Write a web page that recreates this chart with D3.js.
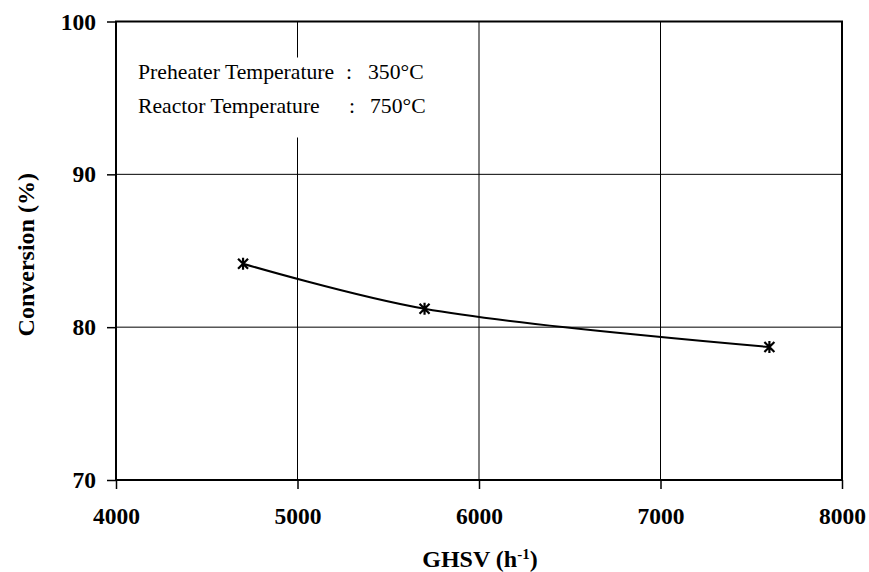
<!DOCTYPE html>
<html>
<head>
<meta charset="utf-8">
<script src="https://cdn.jsdelivr.net/npm/d3@7"></script>
<style>
  body { margin: 0; background: #fff; }
  svg text { font-family: "Liberation Serif", "Times New Roman", serif; fill: #000; }
</style>
</head>
<body>
<div id="chart"></div>
<script>
// data
var ghsv = [4700, 5700, 7600];
var conversion = [84.15, 81.2, 78.7];
var xTicks = [4000, 5000, 6000, 7000, 8000];
var yTicks = [70, 80, 90, 100];
var noteLabels = ["Preheater Temperature", "Reactor Temperature"];
var noteValues = ["350\u00B0C", "750\u00B0C"];

var W = 869, H = 572;
var margin = {top: 21.5, right: 27, bottom: 92, left: 116};
var width = W - margin.left - margin.right,
    height = H - margin.top - margin.bottom;

var svg = d3.select("#chart").append("svg")
    .attr("width", W)
    .attr("height", H);

var g = svg.append("g")
    .attr("transform", `translate(${margin.left}, ${margin.top})`);

var x = d3.scaleLinear().domain([4000, 8000]).range([0, width]);
var y = d3.scaleLinear().domain([70, 100]).range([height, 0]);

// gridlines
g.append("g")
    .selectAll("line.v")
    .data(xTicks.slice(1, -1))
    .enter().append("line")
    .attr("x1", d => x(d)).attr("x2", d => x(d))
    .attr("y1", 0).attr("y2", height)
    .attr("stroke", "#000").attr("stroke-width", 1);

g.append("g")
    .selectAll("line.h")
    .data(yTicks.slice(1, -1))
    .enter().append("line")
    .attr("x1", 0).attr("x2", width)
    .attr("y1", d => y(d)).attr("y2", d => y(d))
    .attr("stroke", "#000").attr("stroke-width", 1);

// white note box over the grid
g.append("rect")
    .attr("x", 14).attr("y", 36)
    .attr("width", 312).attr("height", 80)
    .attr("fill", "#fff");

// frame
g.append("rect")
    .attr("x", 0).attr("y", 0)
    .attr("width", width).attr("height", height)
    .attr("fill", "none")
    .attr("stroke", "#000").attr("stroke-width", 2);

// axes
var xAxis = g.append("g")
    .attr("transform", `translate(0, ${height})`)
    .call(d3.axisBottom(x).tickValues(xTicks).tickSize(9).tickPadding(18).tickFormat(d3.format("d")));
var yAxis = g.append("g")
    .call(d3.axisLeft(y).tickValues(yTicks).tickSize(9).tickPadding(10).tickFormat(d3.format("d")));

[xAxis, yAxis].forEach(a => {
    a.select(".domain").remove();
    a.selectAll(".tick line").attr("stroke", "#000").attr("stroke-width", 1.5);
    a.selectAll("text")
        .style("font-family", '"Liberation Serif", "Times New Roman", serif')
        .style("font-size", "23.5px")
        .style("font-weight", "bold")
        .attr("fill", "#000");
});
yAxis.selectAll("text").attr("dx", "-1");

// axis titles
svg.append("text")
    .attr("x", margin.left + width / 2 + 1)
    .attr("y", 567)
    .attr("text-anchor", "middle")
    .style("font-size", "24px")
    .style("font-weight", "bold")
    .html('GHSV (h<tspan baseline-shift="super" font-size="15px">-1</tspan>)');

svg.append("g")
    .attr("transform", `translate(34, ${margin.top + height / 2 + 4})`)
    .append("text")
    .attr("transform", "rotate(-90)")
    .attr("text-anchor", "middle")
    .style("font-size", "24px")
    .style("font-weight", "bold")
    .text("Conversion (%)");

// note text
var notes = g.append("g");
noteLabels.forEach((t, i) => {
    var by = 57.5 + i * 34;
    notes.append("text").attr("x", 22).attr("y", by)
        .style("font-size", "21.7px").text(t);
    notes.append("text").attr("x", i === 0 ? 230 : 233).attr("y", by)
        .style("font-size", "21.7px").text(":");
    notes.append("text").attr("x", i === 0 ? 252 : 254).attr("y", by)
        .style("font-size", "21.7px").text(noteValues[i]);
});

// line
var pts = ghsv.map((v, i) => [v, conversion[i]]);
var line = d3.line()
    .x(d => x(d[0]))
    .y(d => y(d[1]))
    .curve(d3.curveCatmullRom);

g.append("path")
    .datum(pts)
    .attr("d", line)
    .attr("fill", "none")
    .attr("stroke", "#000")
    .attr("stroke-width", 2);

// asterisk markers
var s = 5;
var star = `M${-s},${-s}L${s},${s}M${-s},${s}L${s},${-s}M0,${-s - 1}L0,${s + 1}`;
g.append("g")
    .selectAll("path")
    .data(pts)
    .enter().append("path")
    .attr("transform", d => `translate(${x(d[0])}, ${y(d[1])})`)
    .attr("d", star)
    .attr("stroke", "#000")
    .attr("stroke-width", 2.2)
    .attr("fill", "none");
</script>
</body>
</html>
